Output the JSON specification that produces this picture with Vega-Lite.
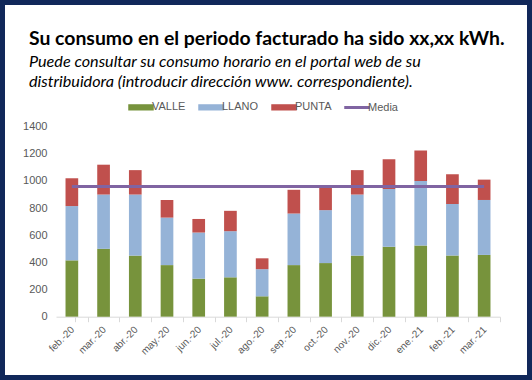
{
  "$schema": "https://vega.github.io/schema/vega-lite/v6.json",
  "width": 522,
  "height": 370,
  "padding": 5,
  "autosize": {"type": "none"},
  "background": "#11285a",
  "config": {"view": {"fill": "white", "stroke": null}, "font": "Liberation Sans"},
  "title": {
    "text": "Su consumo en el periodo facturado ha sido xx,xx kWh.",
    "subtitle": ["Puede consultar su consumo horario en el portal web de su", "distribuidora  (introducir dirección www. correspondiente)."],
    "anchor": "start",
    "frame": "group",
    "offset": -86,
    "dx": 24,
    "font": "Lato",
    "fontSize": 19.4,
    "fontWeight": "bold",
    "color": "#000000",
    "subtitleFont": "Lato",
    "subtitleFontSize": 16.2,
    "subtitleFontStyle": "italic",
    "subtitleColor": "#000000",
    "subtitleLineHeight": 20,
    "subtitlePadding": 4
  },
  "datasets": {
    "bars": [
      {"month": "feb.-20", "serie": "VALLE", "orden": 1, "value": 415}, {"month": "feb.-20", "serie": "LLANO", "orden": 2, "value": 400}, {"month": "feb.-20", "serie": "PUNTA", "orden": 3, "value": 205},
      {"month": "mar.-20", "serie": "VALLE", "orden": 1, "value": 500}, {"month": "mar.-20", "serie": "LLANO", "orden": 2, "value": 400}, {"month": "mar.-20", "serie": "PUNTA", "orden": 3, "value": 220},
      {"month": "abr.-20", "serie": "VALLE", "orden": 1, "value": 450}, {"month": "abr.-20", "serie": "LLANO", "orden": 2, "value": 450}, {"month": "abr.-20", "serie": "PUNTA", "orden": 3, "value": 180},
      {"month": "may.-20", "serie": "VALLE", "orden": 1, "value": 380}, {"month": "may.-20", "serie": "LLANO", "orden": 2, "value": 350}, {"month": "may.-20", "serie": "PUNTA", "orden": 3, "value": 130},
      {"month": "jun.-20", "serie": "VALLE", "orden": 1, "value": 280}, {"month": "jun.-20", "serie": "LLANO", "orden": 2, "value": 340}, {"month": "jun.-20", "serie": "PUNTA", "orden": 3, "value": 100},
      {"month": "jul.-20", "serie": "VALLE", "orden": 1, "value": 290}, {"month": "jul.-20", "serie": "LLANO", "orden": 2, "value": 340}, {"month": "jul.-20", "serie": "PUNTA", "orden": 3, "value": 150},
      {"month": "ago.-20", "serie": "VALLE", "orden": 1, "value": 150}, {"month": "ago.-20", "serie": "LLANO", "orden": 2, "value": 200}, {"month": "ago.-20", "serie": "PUNTA", "orden": 3, "value": 80},
      {"month": "sep.-20", "serie": "VALLE", "orden": 1, "value": 380}, {"month": "sep.-20", "serie": "LLANO", "orden": 2, "value": 380}, {"month": "sep.-20", "serie": "PUNTA", "orden": 3, "value": 175},
      {"month": "oct.-20", "serie": "VALLE", "orden": 1, "value": 395}, {"month": "oct.-20", "serie": "LLANO", "orden": 2, "value": 390}, {"month": "oct.-20", "serie": "PUNTA", "orden": 3, "value": 170},
      {"month": "nov.-20", "serie": "VALLE", "orden": 1, "value": 450}, {"month": "nov.-20", "serie": "LLANO", "orden": 2, "value": 450}, {"month": "nov.-20", "serie": "PUNTA", "orden": 3, "value": 180},
      {"month": "dic.-20", "serie": "VALLE", "orden": 1, "value": 515}, {"month": "dic.-20", "serie": "LLANO", "orden": 2, "value": 425}, {"month": "dic.-20", "serie": "PUNTA", "orden": 3, "value": 220},
      {"month": "ene.-21", "serie": "VALLE", "orden": 1, "value": 525}, {"month": "ene.-21", "serie": "LLANO", "orden": 2, "value": 475}, {"month": "ene.-21", "serie": "PUNTA", "orden": 3, "value": 225},
      {"month": "feb.-21", "serie": "VALLE", "orden": 1, "value": 450}, {"month": "feb.-21", "serie": "LLANO", "orden": 2, "value": 380}, {"month": "feb.-21", "serie": "PUNTA", "orden": 3, "value": 220},
      {"month": "mar.-21", "serie": "VALLE", "orden": 1, "value": 455}, {"month": "mar.-21", "serie": "LLANO", "orden": 2, "value": 405}, {"month": "mar.-21", "serie": "PUNTA", "orden": 3, "value": 150}
    ],
    "media": [
      {"month": "feb.-20", "serie": "Media", "value": 960}, {"month": "mar.-20", "serie": "Media", "value": 960},
      {"month": "abr.-20", "serie": "Media", "value": 960}, {"month": "may.-20", "serie": "Media", "value": 960},
      {"month": "jun.-20", "serie": "Media", "value": 960}, {"month": "jul.-20", "serie": "Media", "value": 960},
      {"month": "ago.-20", "serie": "Media", "value": 960}, {"month": "sep.-20", "serie": "Media", "value": 960},
      {"month": "oct.-20", "serie": "Media", "value": 960}, {"month": "nov.-20", "serie": "Media", "value": 960},
      {"month": "dic.-20", "serie": "Media", "value": 960}, {"month": "ene.-21", "serie": "Media", "value": 960},
      {"month": "feb.-21", "serie": "Media", "value": 960}, {"month": "mar.-21", "serie": "Media", "value": 960}
    ]
  },
  "resolve": {"scale": {"x": "independent"}},
  "layer": [
    {
      "data": {"name": "bars"},
      "mark": {"type": "bar"},
      "encoding": {
        "x": {
          "field": "month", "type": "nominal", "sort": null, "title": null,
          "scale": {
            "domain": ["feb.-20", "mar.-20", "abr.-20", "may.-20", "jun.-20", "jul.-20", "ago.-20", "sep.-20", "oct.-20", "nov.-20", "dic.-20", "ene.-21", "feb.-21", "mar.-21"],
            "range": [51, 495],
            "paddingInner": 0.6, "paddingOuter": 0.3, "round": false
          },
          "axis": {
            "orient": "bottom", "offset": -58.3, "domain": true, "domainColor": "#d9d9d9", "title": null,
            "bandPosition": 1, "tickExtra": true, "tickOffset": 9.51, "labelOffset": -9,
            "tickSize": 5, "tickColor": "#d9d9d9", "tickWidth": 1,
            "labelAngle": -45, "labelAlign": "right", "labelBaseline": "middle", "labelPadding": 6,
            "labelFontSize": 10, "labelColor": "#595959", "labelFont": "Liberation Sans"
          }
        },
        "y": {
          "field": "value", "type": "quantitative", "stack": "zero", "title": null,
          "scale": {"domain": [-430, 2297], "nice": false, "zero": false},
          "axis": {
            "orient": "left", "offset": -46, "domain": false, "ticks": false, "tickSize": 0, "grid": false, "title": null,
            "values": [0, 200, 400, 600, 800, 1000, 1200, 1400], "format": "d",
            "labelPadding": 4, "labelFontSize": 11, "labelColor": "#595959", "labelFont": "Liberation Sans", "labelBaseline": "middle"
          }
        },
        "color": {
          "field": "serie", "type": "nominal",
          "sort": ["VALLE", "LLANO", "PUNTA", "Media"],
          "scale": {"domain": ["VALLE", "LLANO", "PUNTA", "Media"], "range": ["#77933c", "#95b3d7", "#c0504d", "#8064a2"]},
          "legend": {
            "orient": "none", "legendX": 127, "legendY": 93, "direction": "horizontal", "title": null,
            "padding": 0, "labelFontSize": 11, "labelColor": "#595959", "labelFont": "Liberation Sans",
            "symbolSize": 256, "labelOffset": 2, "columnPadding": 10,
            "symbolType": "M-1.5,-0.3H1.5V0.3H-1.5Z",
            "encode": {
              "symbols": {
                "update": {
                  "shape": [{"test": "datum.value === 'Media'", "value": "M-1.5,-0.1H1.5V0.1H-1.5Z"}, {"value": "M-1.5,-0.3H1.5V0.3H-1.5Z"}],
                  "fill": {"scale": "color", "field": "value"},
                  "stroke": {"value": "transparent"},
                  "opacity": {"value": 1}
                }
              }
            }
          }
        },
        "order": {"field": "orden", "type": "quantitative", "sort": "ascending"}
      }
    },
    {
      "data": {"name": "media"},
      "mark": {"type": "line", "strokeWidth": 3},
      "encoding": {
        "x": {
          "field": "month", "type": "ordinal", "sort": null, "axis": null,
          "scale": {
            "type": "point",
            "domain": ["feb.-20", "mar.-20", "abr.-20", "may.-20", "jun.-20", "jul.-20", "ago.-20", "sep.-20", "oct.-20", "nov.-20", "dic.-20", "ene.-21", "feb.-21", "mar.-21"],
            "range": [51, 495], "padding": 0.5, "round": false
          }
        },
        "y": {"field": "value", "type": "quantitative", "title": null},
        "color": {"field": "serie", "type": "nominal", "legend": null}
      }
    }
  ]
}
